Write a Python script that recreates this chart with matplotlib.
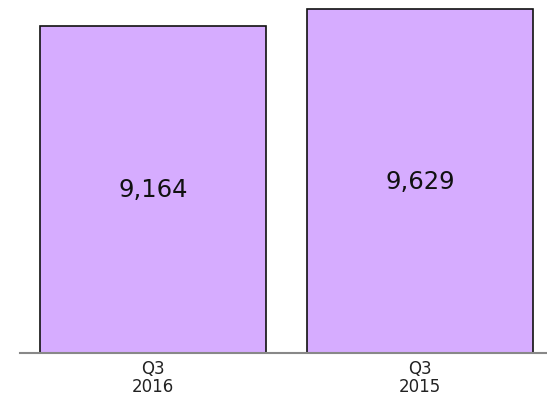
import matplotlib
matplotlib.use("Agg")
import matplotlib.pyplot as plt

# chart data
categories = ["Q3\n2016", "Q3\n2015"]
values = [9164, 9629]
value_labels = ["9,164", "9,629"]

plt.rcParams['font.family'] = ['DejaVu Sans']

fig = plt.figure(figsize=(5.47, 4.06), dpi=100)
ax = fig.add_axes([20 / 547, 52 / 406, 527 / 547, 354 / 406])

x = range(len(categories))
bars = ax.bar(x, values, width=0.846, color='#d6acff', edgecolor='#111111', linewidth=1.2)

# value labels in the middle of each bar
for b, lab in zip(bars, value_labels):
    ax.text(b.get_x() + b.get_width() / 2, b.get_height() / 2, lab,
            ha='center', va='center', fontsize=17.5, color='#111111')

ax.set_xlim(-0.498, 1.476)
ax.set_ylim(0, 9910)
ax.set_xticks(list(x))
ax.set_xticklabels(categories, fontsize=12, color='#222222', linespacing=1.05)
ax.tick_params(axis='x', length=0, pad=4)
ax.set_yticks([])
for s in ['top', 'right', 'left']:
    ax.spines[s].set_visible(False)
ax.spines['bottom'].set_color('#888888')
ax.spines['bottom'].set_linewidth(1.5)

plt.savefig('out.png', dpi=100)
